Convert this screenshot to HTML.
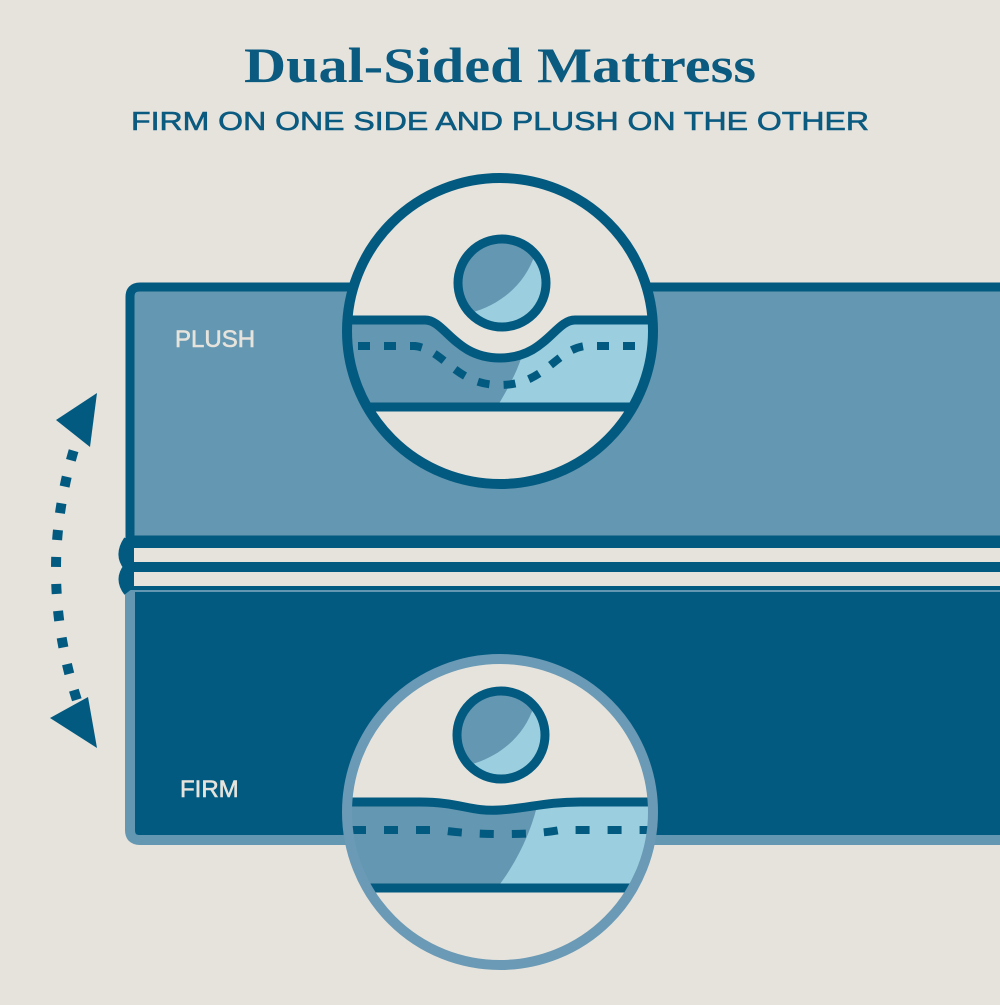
<!DOCTYPE html>
<html><head><style>html,body{margin:0;padding:0;background:#e6e3dc}</style></head>
<body>
<svg width="1000" height="1000" viewBox="0 0 1000 1000" xmlns="http://www.w3.org/2000/svg">
<rect width="1000" height="1000" fill="#e6e3dc"/>
<text x="500" y="82" text-anchor="middle" font-family="Liberation Serif, serif" font-weight="bold" font-size="50" fill="#0b5a80" textLength="512" lengthAdjust="spacingAndGlyphs">Dual-Sided Mattress</text>
<text x="500" y="130" text-anchor="middle" font-family="Liberation Sans, sans-serif" font-size="26" fill="#0b5a80" stroke="#0b5a80" stroke-width="0.6" textLength="738" lengthAdjust="spacingAndGlyphs">FIRM ON ONE SIDE AND PLUSH ON THE OTHER</text>

<!-- bottom firm panel -->
<path d="M1010 587 L130 587 L130 830 Q130 840 140 840 L1010 840" fill="#035a80" stroke="#6497b1" stroke-width="10"/>
<!-- top plush panel -->
<path d="M1010 287 L140 287 Q130 287 130 297 L130 540 L1010 540 Z" fill="#6497b1" stroke="#035a80" stroke-width="9"/>
<!-- seam -->
<rect x="125" y="538" width="880" height="52" fill="#035a80"/>
<rect x="134" y="548" width="870" height="14" fill="#e6e3dc"/>
<rect x="134" y="572" width="870" height="14" fill="#e6e3dc"/>
<path d="M128 540 Q118 555 128 567 Q118 579 128 592" fill="none" stroke="#035a80" stroke-width="9"/>

<text x="175" y="347" font-family="Liberation Sans, sans-serif" font-size="24" fill="#e6e3dc" stroke="#e6e3dc" stroke-width="0.6">PLUSH</text>
<text x="180" y="797" font-family="Liberation Sans, sans-serif" font-size="24" fill="#e6e3dc" stroke="#e6e3dc" stroke-width="0.6">FIRM</text>

<!-- arrow -->
<path d="M82 425 Q30 570 82 715" fill="none" stroke="#035a80" stroke-width="10" stroke-dasharray="10 17"/>
<polygon points="97,393 56,420 90,447" fill="#035a80"/>
<polygon points="97,748 50,718 88,697" fill="#035a80"/>

<defs>
<clipPath id="c1"><circle cx="500" cy="331" r="153"/></clipPath>
<clipPath id="c2"><circle cx="500" cy="812" r="153"/></clipPath>
</defs>
<!-- top circle -->
<circle cx="500" cy="331" r="153" fill="#e6e3dc"/>
<g clip-path="url(#c1)">
<path d="M330 320 L425 320 C445 320 455 358 500 358 C545 358 555 320 575 320 L670 320 L670 407 L330 407 Z" fill="#6497b1"/>
<path d="M523 352 C535 352 560 330 575 320 L670 320 L670 407 L497 407 C510 385 518 370 523 352 Z" fill="#9bcfdf"/>
<path d="M330 320 L425 320 C445 320 455 358 500 358 C545 358 555 320 575 320 L670 320" fill="none" stroke="#035a80" stroke-width="9"/>
<path d="M358 346 L415 346 C445 350 455 385 500 385 C545 385 555 350 585 346 L645 346" fill="none" stroke="#035a80" stroke-width="8" stroke-dasharray="12 14"/>
<line x1="330" y1="407" x2="670" y2="407" stroke="#035a80" stroke-width="9"/>
</g>
<circle cx="500" cy="331" r="153" fill="none" stroke="#035a80" stroke-width="10"/>
<circle cx="502" cy="283" r="44" fill="#6497b1"/>
<path d="M535 254 A44 44 0 0 1 470 313 C500 305 525 285 535 254 Z" fill="#9bcfdf"/>
<circle cx="502" cy="283" r="44" fill="none" stroke="#035a80" stroke-width="9"/>

<!-- bottom circle -->
<circle cx="500" cy="812" r="153" fill="#e6e3dc"/>
<g clip-path="url(#c2)">
<path d="M330 802 L420 802 C460 802 470 812 500 810 C530 808 545 802 580 802 L670 802 L670 888 L330 888 Z" fill="#6497b1"/>
<path d="M537 806 L670 802 L670 888 L497 888 C515 865 530 835 537 806 Z" fill="#9bcfdf"/>
<path d="M330 802 L420 802 C460 802 470 812 500 810 C530 808 545 802 580 802 L670 802" fill="none" stroke="#035a80" stroke-width="9"/>
<path d="M352 830 L440 830 C470 835 530 836 560 830 L660 830" fill="none" stroke="#035a80" stroke-width="8" stroke-dasharray="14 18"/>
<line x1="330" y1="888" x2="670" y2="888" stroke="#035a80" stroke-width="9"/>
</g>
<circle cx="500" cy="812" r="153" fill="none" stroke="#6a9ab5" stroke-width="10"/>
<circle cx="501" cy="735" r="44" fill="#6497b1"/>
<path d="M534 706 A44 44 0 0 1 469 765 C499 757 524 737 534 706 Z" fill="#9bcfdf"/>
<circle cx="501" cy="735" r="44" fill="none" stroke="#035a80" stroke-width="9"/>
</svg>
</body></html>
